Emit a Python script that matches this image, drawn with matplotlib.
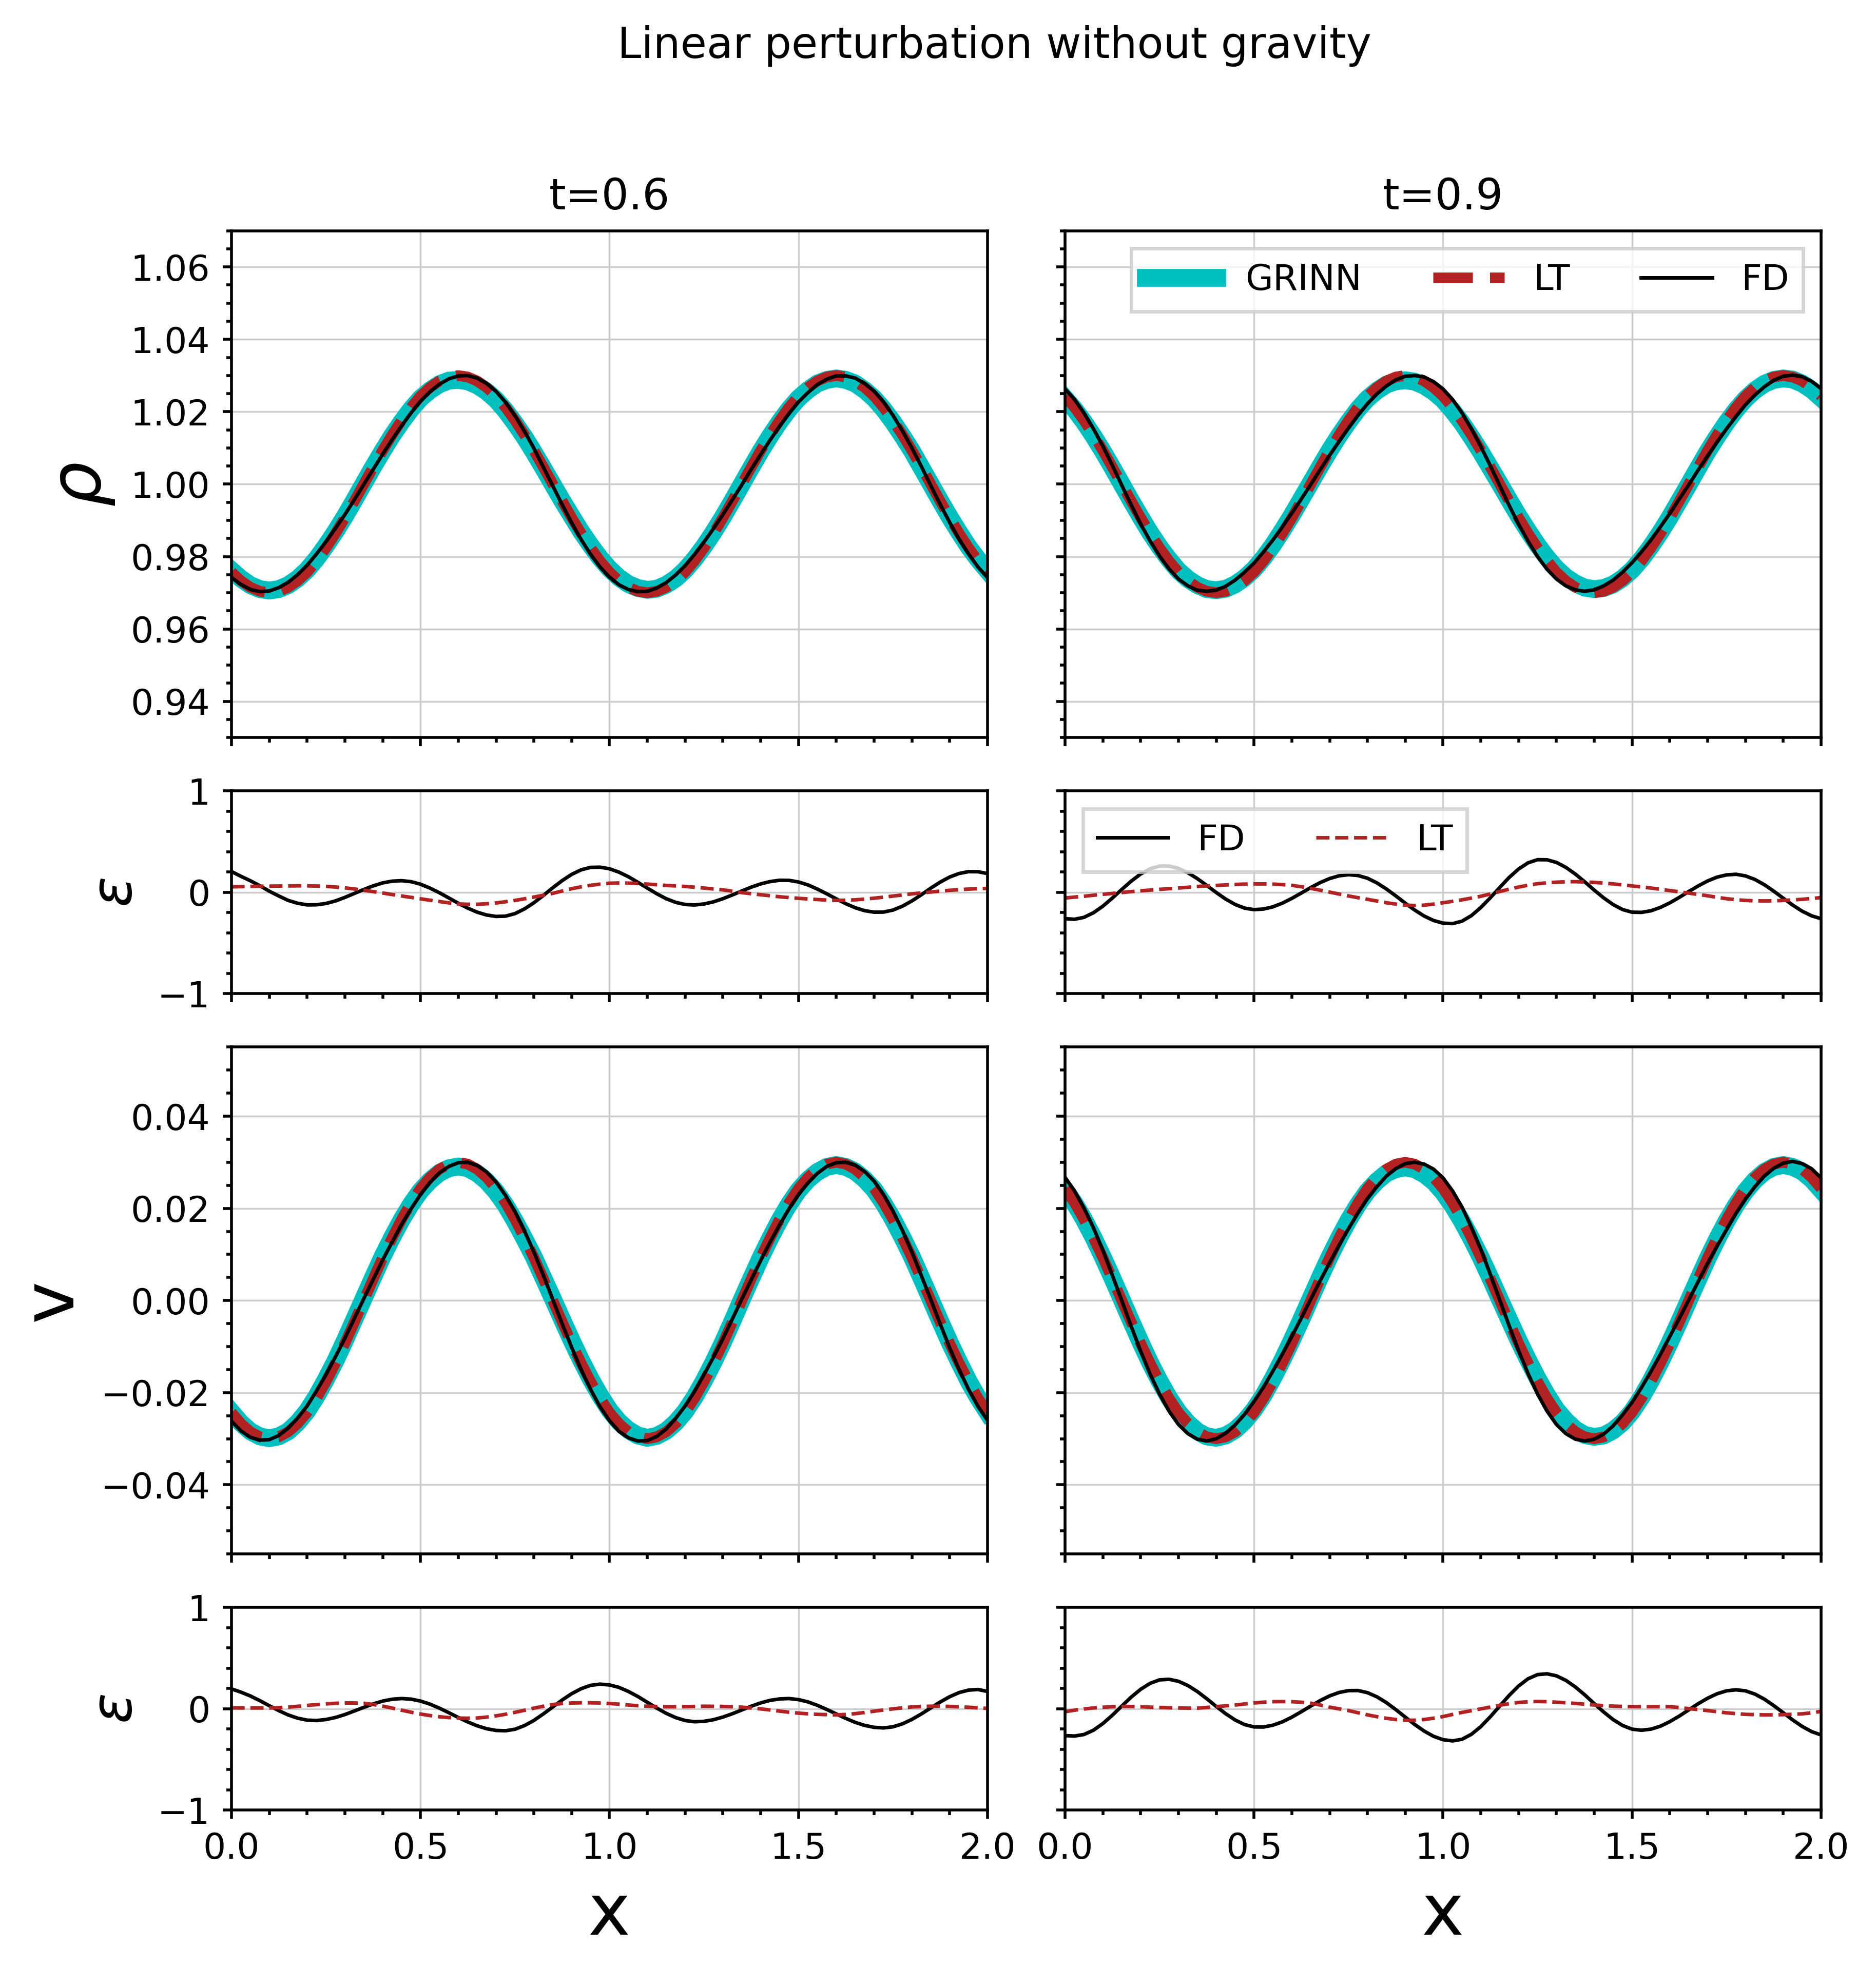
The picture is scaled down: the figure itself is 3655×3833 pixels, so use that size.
import numpy as np
import matplotlib.pyplot as plt
from matplotlib.ticker import MultipleLocator

# sample positions along x (step 0.025)
x = np.linspace(0.0, 2.0, 81)

# ---------------- t = 0.6 ----------------
rho_grinn_t06 = [0.9762, 0.9739, 0.9721, 0.9710, 0.9706, 0.9710, 0.9721, 0.9739, 0.9763, 0.9794,
                 0.9830, 0.9869, 0.9911, 0.9956, 1.0002, 1.0048, 1.0092, 1.0134, 1.0172, 1.0207,
                 1.0237, 1.0259, 1.0276, 1.0286, 1.0288, 1.0284, 1.0273, 1.0256, 1.0233, 1.0203,
                 1.0168, 1.0130, 1.0088, 1.0044, 0.9999, 0.9954, 0.9911, 0.9869, 0.9831, 0.9796,
                 0.9766, 0.9742, 0.9724, 0.9713, 0.9708, 0.9711, 0.9722, 0.9739, 0.9763, 0.9793,
                 0.9828, 0.9867, 0.9909, 0.9954, 1.0000, 1.0046, 1.0091, 1.0133, 1.0172, 1.0207,
                 1.0237, 1.0260, 1.0278, 1.0288, 1.0292, 1.0288, 1.0278, 1.0260, 1.0237, 1.0207,
                 1.0172, 1.0133, 1.0092, 1.0046, 1.0000, 0.9954, 0.9909, 0.9867, 0.9827, 0.9792,
                 0.9761]
rho_lt_t06 = [0.9757, 0.9733, 0.9715, 0.9704, 0.9700, 0.9704, 0.9715, 0.9733, 0.9757, 0.9788,
              0.9824, 0.9864, 0.9907, 0.9953, 1.0000, 1.0047, 1.0093, 1.0136, 1.0176, 1.0212,
              1.0243, 1.0267, 1.0285, 1.0296, 1.0300, 1.0296, 1.0285, 1.0267, 1.0243, 1.0212,
              1.0176, 1.0136, 1.0093, 1.0047, 1.0000, 0.9953, 0.9907, 0.9864, 0.9824, 0.9788,
              0.9757, 0.9733, 0.9715, 0.9704, 0.9700, 0.9704, 0.9715, 0.9733, 0.9757, 0.9788,
              0.9824, 0.9864, 0.9907, 0.9953, 1.0000, 1.0047, 1.0093, 1.0136, 1.0176, 1.0212,
              1.0243, 1.0267, 1.0285, 1.0296, 1.0300, 1.0296, 1.0285, 1.0267, 1.0243, 1.0212,
              1.0176, 1.0136, 1.0093, 1.0047, 1.0000, 0.9953, 0.9907, 0.9864, 0.9824, 0.9788,
              0.9757]
rho_fd_t06 = [0.9742, 0.9723, 0.9709, 0.9703, 0.9705, 0.9714, 0.9729, 0.9750, 0.9776, 0.9807,
              0.9841, 0.9878, 0.9916, 0.9957, 0.9999, 1.0041, 1.0083, 1.0123, 1.0161, 1.0197,
              1.0229, 1.0255, 1.0276, 1.0291, 1.0299, 1.0300, 1.0293, 1.0278, 1.0256, 1.0226,
              1.0189, 1.0146, 1.0099, 1.0047, 0.9995, 0.9943, 0.9893, 0.9847, 0.9806, 0.9771,
              0.9743, 0.9722, 0.9709, 0.9703, 0.9704, 0.9713, 0.9728, 0.9749, 0.9775, 0.9806,
              0.9840, 0.9877, 0.9916, 0.9957, 0.9998, 1.0041, 1.0082, 1.0122, 1.0160, 1.0195,
              1.0227, 1.0253, 1.0275, 1.0290, 1.0299, 1.0299, 1.0293, 1.0278, 1.0257, 1.0227,
              1.0190, 1.0147, 1.0100, 1.0049, 0.9996, 0.9944, 0.9894, 0.9848, 0.9807, 0.9771,
              0.9742]
eps_rho_fd_t06 = [0.205, 0.158, 0.114, 0.065, 0.011, -0.036, -0.080, -0.108, -0.124, -0.123,
                  -0.110, -0.085, -0.050, -0.011, 0.028, 0.064, 0.093, 0.110, 0.115, 0.105,
                  0.080, 0.042, -0.004, -0.056, -0.108, -0.156, -0.196, -0.224, -0.238, -0.235,
                  -0.210, -0.164, -0.103, -0.031, 0.045, 0.116, 0.177, 0.222, 0.246, 0.248,
                  0.232, 0.199, 0.154, 0.099, 0.042, -0.014, -0.063, -0.099, -0.120, -0.125,
                  -0.115, -0.094, -0.063, -0.026, 0.013, 0.051, 0.083, 0.106, 0.119, 0.118,
                  0.102, 0.073, 0.032, -0.015, -0.065, -0.112, -0.152, -0.181, -0.196, -0.195,
                  -0.175, -0.137, -0.085, -0.024, 0.041, 0.101, 0.151, 0.186, 0.204, 0.203,
                  0.185]
eps_rho_lt_t06 = [0.054, 0.056, 0.058, 0.060, 0.061, 0.062, 0.063, 0.064, 0.064, 0.062,
                  0.059, 0.052, 0.044, 0.033, 0.020, 0.007, -0.007, -0.022, -0.036, -0.050,
                  -0.064, -0.078, -0.091, -0.104, -0.115, -0.118, -0.118, -0.113, -0.105, -0.093,
                  -0.080, -0.064, -0.047, -0.029, -0.010, 0.013, 0.036, 0.054, 0.069, 0.081,
                  0.090, 0.092, 0.091, 0.087, 0.081, 0.075, 0.068, 0.063, 0.058, 0.050,
                  0.042, 0.033, 0.024, 0.011, -0.003, -0.014, -0.024, -0.034, -0.044, -0.052,
                  -0.059, -0.066, -0.071, -0.077, -0.080, -0.078, -0.074, -0.067, -0.058, -0.048,
                  -0.037, -0.026, -0.015, -0.006, 0.003, 0.012, 0.020, 0.026, 0.032, 0.036,
                  0.039]
v_grinn_t06 = [-0.0242, -0.0266, -0.0284, -0.0295, -0.0299, -0.0295, -0.0284, -0.0265, -0.0240, -0.0208,
               -0.0171, -0.0131, -0.0087, -0.0041, 0.0005, 0.0051, 0.0096, 0.0137, 0.0175, 0.0209,
               0.0238, 0.0260, 0.0277, 0.0287, 0.0291, 0.0287, 0.0276, 0.0259, 0.0236, 0.0207,
               0.0172, 0.0134, 0.0094, 0.0049, 0.0004, -0.0042, -0.0087, -0.0130, -0.0170, -0.0206,
               -0.0238, -0.0263, -0.0281, -0.0293, -0.0298, -0.0294, -0.0283, -0.0265, -0.0241, -0.0210,
               -0.0174, -0.0134, -0.0091, -0.0045, 0.0002, 0.0048, 0.0093, 0.0135, 0.0174, 0.0209,
               0.0239, 0.0262, 0.0279, 0.0290, 0.0294, 0.0290, 0.0280, 0.0263, 0.0241, 0.0211,
               0.0176, 0.0137, 0.0095, 0.0049, 0.0002, -0.0045, -0.0091, -0.0134, -0.0175, -0.0211,
               -0.0243]
v_lt_t06 = [-0.0243, -0.0267, -0.0285, -0.0296, -0.0300, -0.0296, -0.0285, -0.0267, -0.0243, -0.0212,
            -0.0176, -0.0136, -0.0093, -0.0047, 0.0000, 0.0047, 0.0093, 0.0136, 0.0176, 0.0212,
            0.0243, 0.0267, 0.0285, 0.0296, 0.0300, 0.0296, 0.0285, 0.0267, 0.0243, 0.0212,
            0.0176, 0.0136, 0.0093, 0.0047, 0.0000, -0.0047, -0.0093, -0.0136, -0.0176, -0.0212,
            -0.0243, -0.0267, -0.0285, -0.0296, -0.0300, -0.0296, -0.0285, -0.0267, -0.0243, -0.0212,
            -0.0176, -0.0136, -0.0093, -0.0047, 0.0000, 0.0047, 0.0093, 0.0136, 0.0176, 0.0212,
            0.0243, 0.0267, 0.0285, 0.0296, 0.0300, 0.0296, 0.0285, 0.0267, 0.0243, 0.0212,
            0.0176, 0.0136, 0.0093, 0.0047, 0.0000, -0.0047, -0.0093, -0.0136, -0.0176, -0.0212,
            -0.0243]
v_fd_t06 = [-0.0262, -0.0283, -0.0297, -0.0303, -0.0302, -0.0293, -0.0277, -0.0255, -0.0229, -0.0196,
            -0.0161, -0.0122, -0.0082, -0.0039, 0.0004, 0.0046, 0.0088, 0.0127, 0.0165, 0.0199,
            0.0230, 0.0256, 0.0277, 0.0291, 0.0299, 0.0300, 0.0293, 0.0279, 0.0257, 0.0228,
            0.0193, 0.0151, 0.0105, 0.0055, 0.0002, -0.0051, -0.0102, -0.0150, -0.0193, -0.0231,
            -0.0261, -0.0284, -0.0298, -0.0305, -0.0304, -0.0295, -0.0279, -0.0256, -0.0229, -0.0197,
            -0.0161, -0.0123, -0.0083, -0.0040, 0.0003, 0.0045, 0.0087, 0.0127, 0.0164, 0.0199,
            0.0230, 0.0255, 0.0276, 0.0291, 0.0299, 0.0300, 0.0294, 0.0280, 0.0259, 0.0230,
            0.0194, 0.0152, 0.0105, 0.0054, 0.0002, -0.0051, -0.0103, -0.0150, -0.0193, -0.0230,
            -0.0260]
eps_v_fd_t06 = [0.195, 0.163, 0.125, 0.079, 0.029, -0.019, -0.062, -0.094, -0.113, -0.117,
                -0.107, -0.087, -0.058, -0.023, 0.013, 0.047, 0.075, 0.093, 0.100, 0.094,
                0.075, 0.045, 0.005, -0.040, -0.087, -0.131, -0.169, -0.198, -0.215, -0.218,
                -0.203, -0.167, -0.116, -0.052, 0.017, 0.086, 0.148, 0.197, 0.230, 0.242,
                0.234, 0.210, 0.170, 0.120, 0.063, 0.006, -0.046, -0.088, -0.117, -0.129,
                -0.125, -0.109, -0.083, -0.050, -0.013, 0.024, 0.057, 0.082, 0.096, 0.100,
                0.089, 0.067, 0.033, -0.008, -0.052, -0.096, -0.135, -0.165, -0.184, -0.190,
                -0.179, -0.150, -0.106, -0.052, 0.007, 0.066, 0.118, 0.159, 0.183, 0.189,
                0.170]
eps_v_lt_t06 = [0.008, 0.007, 0.007, 0.007, 0.007, 0.010, 0.015, 0.023, 0.032, 0.040,
                0.047, 0.053, 0.056, 0.056, 0.053, 0.041, 0.025, 0.006, -0.015, -0.035,
                -0.053, -0.068, -0.080, -0.088, -0.093, -0.094, -0.092, -0.083, -0.071, -0.055,
                -0.036, -0.016, 0.005, 0.024, 0.041, 0.051, 0.056, 0.058, 0.058, 0.056,
                0.051, 0.044, 0.036, 0.029, 0.024, 0.021, 0.019, 0.019, 0.020, 0.022,
                0.024, 0.023, 0.022, 0.019, 0.015, 0.007, -0.002, -0.013, -0.024, -0.035,
                -0.044, -0.051, -0.056, -0.059, -0.061, -0.057, -0.049, -0.038, -0.025, -0.013,
                -0.002, 0.008, 0.017, 0.021, 0.024, 0.024, 0.022, 0.018, 0.014, 0.008,
                0.003]

# ---------------- t = 0.9 ----------------
rho_grinn_t09 = [1.0237, 1.0207, 1.0172, 1.0133, 1.0091, 1.0046, 1.0000, 0.9954, 0.9909, 0.9866,
                 0.9827, 0.9792, 0.9761, 0.9738, 0.9721, 0.9710, 0.9707, 0.9711, 0.9723, 0.9741,
                 0.9765, 0.9796, 0.9832, 0.9872, 0.9914, 0.9959, 1.0004, 1.0049, 1.0093, 1.0134,
                 1.0172, 1.0207, 1.0236, 1.0258, 1.0275, 1.0284, 1.0287, 1.0283, 1.0272, 1.0255,
                 1.0233, 1.0203, 1.0169, 1.0130, 1.0089, 1.0045, 1.0001, 0.9956, 0.9912, 0.9871,
                 0.9832, 0.9797, 0.9767, 0.9743, 0.9726, 0.9714, 0.9710, 0.9713, 0.9723, 0.9740,
                 0.9763, 0.9793, 0.9828, 0.9867, 0.9909, 0.9954, 0.9999, 1.0045, 1.0090, 1.0131,
                 1.0170, 1.0205, 1.0235, 1.0259, 1.0277, 1.0288, 1.0292, 1.0289, 1.0278, 1.0261,
                 1.0238]
rho_lt_t09 = [1.0243, 1.0212, 1.0176, 1.0136, 1.0093, 1.0047, 1.0000, 0.9953, 0.9907, 0.9864,
              0.9824, 0.9788, 0.9757, 0.9733, 0.9715, 0.9704, 0.9700, 0.9704, 0.9715, 0.9733,
              0.9757, 0.9788, 0.9824, 0.9864, 0.9907, 0.9953, 1.0000, 1.0047, 1.0093, 1.0136,
              1.0176, 1.0212, 1.0243, 1.0267, 1.0285, 1.0296, 1.0300, 1.0296, 1.0285, 1.0267,
              1.0243, 1.0212, 1.0176, 1.0136, 1.0093, 1.0047, 1.0000, 0.9953, 0.9907, 0.9864,
              0.9824, 0.9788, 0.9757, 0.9733, 0.9715, 0.9704, 0.9700, 0.9704, 0.9715, 0.9733,
              0.9757, 0.9788, 0.9824, 0.9864, 0.9907, 0.9953, 1.0000, 1.0047, 1.0093, 1.0136,
              1.0176, 1.0212, 1.0243, 1.0267, 1.0285, 1.0296, 1.0300, 1.0296, 1.0285, 1.0267,
              1.0243]
rho_fd_t09 = [1.0263, 1.0234, 1.0197, 1.0153, 1.0105, 1.0052, 0.9997, 0.9943, 0.9890, 0.9843,
              0.9801, 0.9766, 0.9738, 0.9719, 0.9707, 0.9704, 0.9707, 0.9718, 0.9735, 0.9757,
              0.9782, 0.9813, 0.9846, 0.9882, 0.9920, 0.9959, 0.9999, 1.0040, 1.0080, 1.0118,
              1.0155, 1.0190, 1.0222, 1.0249, 1.0271, 1.0288, 1.0298, 1.0300, 1.0296, 1.0283,
              1.0263, 1.0234, 1.0197, 1.0153, 1.0104, 1.0051, 0.9996, 0.9941, 0.9889, 0.9842,
              0.9800, 0.9765, 0.9738, 0.9719, 0.9708, 0.9704, 0.9708, 0.9719, 0.9735, 0.9757,
              0.9783, 0.9813, 0.9846, 0.9882, 0.9919, 0.9959, 0.9998, 1.0039, 1.0078, 1.0116,
              1.0153, 1.0187, 1.0219, 1.0246, 1.0269, 1.0287, 1.0298, 1.0301, 1.0297, 1.0284,
              1.0264]
eps_rho_fd_t09 = [-0.260, -0.266, -0.247, -0.202, -0.137, -0.057, 0.028, 0.110, 0.181, 0.232,
                  0.259, 0.259, 0.236, 0.193, 0.135, 0.068, -0.002, -0.067, -0.120, -0.156,
                  -0.171, -0.165, -0.143, -0.107, -0.060, -0.007, 0.047, 0.096, 0.136, 0.163,
                  0.174, 0.166, 0.139, 0.093, 0.033, -0.035, -0.107, -0.175, -0.234, -0.278,
                  -0.304, -0.309, -0.285, -0.230, -0.150, -0.054, 0.048, 0.147, 0.230, 0.291,
                  0.322, 0.321, 0.295, 0.246, 0.180, 0.103, 0.022, -0.055, -0.121, -0.170,
                  -0.196, -0.198, -0.182, -0.149, -0.104, -0.050, 0.008, 0.063, 0.112, 0.150,
                  0.172, 0.178, 0.162, 0.127, 0.075, 0.011, -0.058, -0.126, -0.186, -0.232,
                  -0.260]
eps_rho_lt_t09 = [-0.056, -0.047, -0.039, -0.029, -0.020, -0.011, -0.002, 0.007, 0.015, 0.022,
                  0.029, 0.036, 0.042, 0.050, 0.058, 0.063, 0.068, 0.073, 0.078, 0.081,
                  0.083, 0.083, 0.081, 0.076, 0.069, 0.055, 0.039, 0.021, 0.002, -0.017,
                  -0.036, -0.053, -0.069, -0.086, -0.103, -0.116, -0.127, -0.130, -0.127, -0.116,
                  -0.103, -0.089, -0.074, -0.057, -0.039, -0.016, 0.008, 0.031, 0.052, 0.070,
                  0.085, 0.094, 0.100, 0.104, 0.105, 0.102, 0.098, 0.091, 0.083, 0.073,
                  0.063, 0.053, 0.042, 0.030, 0.017, 0.005, -0.008, -0.021, -0.034, -0.049,
                  -0.063, -0.073, -0.080, -0.084, -0.085, -0.084, -0.080, -0.075, -0.069, -0.061,
                  -0.052]
v_grinn_t09 = [0.0240, 0.0211, 0.0176, 0.0137, 0.0094, 0.0049, 0.0002, -0.0045, -0.0091, -0.0135,
               -0.0175, -0.0211, -0.0242, -0.0266, -0.0284, -0.0295, -0.0298, -0.0293, -0.0281, -0.0262,
               -0.0237, -0.0206, -0.0169, -0.0129, -0.0086, -0.0041, 0.0005, 0.0051, 0.0095, 0.0136,
               0.0174, 0.0208, 0.0237, 0.0259, 0.0276, 0.0285, 0.0289, 0.0285, 0.0274, 0.0258,
               0.0235, 0.0206, 0.0172, 0.0134, 0.0093, 0.0049, 0.0003, -0.0042, -0.0087, -0.0129,
               -0.0169, -0.0205, -0.0237, -0.0261, -0.0280, -0.0292, -0.0296, -0.0293, -0.0282, -0.0265,
               -0.0241, -0.0210, -0.0174, -0.0134, -0.0091, -0.0046, 0.0000, 0.0046, 0.0091, 0.0133,
               0.0172, 0.0207, 0.0237, 0.0261, 0.0279, 0.0290, 0.0294, 0.0290, 0.0280, 0.0263,
               0.0240]
v_lt_t09 = [0.0243, 0.0212, 0.0176, 0.0136, 0.0093, 0.0047, 0.0000, -0.0047, -0.0093, -0.0136,
            -0.0176, -0.0212, -0.0243, -0.0267, -0.0285, -0.0296, -0.0300, -0.0296, -0.0285, -0.0267,
            -0.0243, -0.0212, -0.0176, -0.0136, -0.0093, -0.0047, 0.0000, 0.0047, 0.0093, 0.0136,
            0.0176, 0.0212, 0.0243, 0.0267, 0.0285, 0.0296, 0.0300, 0.0296, 0.0285, 0.0267,
            0.0243, 0.0212, 0.0176, 0.0136, 0.0093, 0.0047, 0.0000, -0.0047, -0.0093, -0.0136,
            -0.0176, -0.0212, -0.0243, -0.0267, -0.0285, -0.0296, -0.0300, -0.0296, -0.0285, -0.0267,
            -0.0243, -0.0212, -0.0176, -0.0136, -0.0093, -0.0047, 0.0000, 0.0047, 0.0093, 0.0136,
            0.0176, 0.0212, 0.0243, 0.0267, 0.0285, 0.0296, 0.0300, 0.0296, 0.0285, 0.0267,
            0.0243]
v_fd_t09 = [0.0267, 0.0238, 0.0201, 0.0158, 0.0109, 0.0055, 0.0000, -0.0056, -0.0110, -0.0160,
            -0.0203, -0.0240, -0.0269, -0.0289, -0.0301, -0.0305, -0.0300, -0.0288, -0.0270, -0.0247,
            -0.0219, -0.0188, -0.0153, -0.0116, -0.0078, -0.0038, 0.0003, 0.0043, 0.0082, 0.0120,
            0.0156, 0.0190, 0.0221, 0.0247, 0.0270, 0.0286, 0.0297, 0.0300, 0.0296, 0.0285,
            0.0266, 0.0238, 0.0203, 0.0159, 0.0111, 0.0057, 0.0001, -0.0055, -0.0109, -0.0159,
            -0.0203, -0.0240, -0.0269, -0.0289, -0.0301, -0.0305, -0.0301, -0.0290, -0.0272, -0.0248,
            -0.0221, -0.0189, -0.0154, -0.0117, -0.0078, -0.0039, 0.0001, 0.0041, 0.0081, 0.0118,
            0.0154, 0.0189, 0.0220, 0.0247, 0.0270, 0.0287, 0.0298, 0.0302, 0.0297, 0.0286,
            0.0266]
eps_v_fd_t09 = [-0.266, -0.270, -0.255, -0.213, -0.147, -0.065, 0.025, 0.114, 0.191, 0.250,
                0.284, 0.290, 0.270, 0.228, 0.169, 0.098, 0.022, -0.050, -0.112, -0.157,
                -0.180, -0.181, -0.163, -0.130, -0.084, -0.030, 0.026, 0.080, 0.126, 0.160,
                0.178, 0.179, 0.158, 0.117, 0.060, -0.009, -0.083, -0.156, -0.221, -0.273,
                -0.306, -0.318, -0.302, -0.253, -0.177, -0.080, 0.026, 0.131, 0.224, 0.295,
                0.336, 0.344, 0.324, 0.279, 0.214, 0.136, 0.050, -0.033, -0.108, -0.166,
                -0.202, -0.213, -0.202, -0.173, -0.128, -0.073, -0.012, 0.049, 0.103, 0.147,
                0.176, 0.186, 0.176, 0.144, 0.094, 0.030, -0.040, -0.111, -0.175, -0.226,
                -0.259]
eps_v_lt_t09 = [-0.030, -0.015, -0.003, 0.007, 0.014, 0.019, 0.022, 0.021, 0.019, 0.015,
                0.012, 0.009, 0.007, 0.005, 0.005, 0.012, 0.020, 0.028, 0.036, 0.046,
                0.056, 0.064, 0.069, 0.070, 0.069, 0.063, 0.054, 0.036, 0.015, -0.002,
                -0.019, -0.040, -0.061, -0.079, -0.095, -0.107, -0.115, -0.114, -0.107, -0.094,
                -0.078, -0.057, -0.037, -0.020, -0.002, 0.016, 0.034, 0.049, 0.061, 0.068,
                0.071, 0.069, 0.064, 0.058, 0.052, 0.044, 0.036, 0.030, 0.025, 0.022,
                0.020, 0.020, 0.020, 0.020, 0.020, 0.011, 0.000, -0.009, -0.019, -0.030,
                -0.041, -0.049, -0.056, -0.059, -0.061, -0.061, -0.059, -0.055, -0.051, -0.041,
                -0.027]

times = ['t=0.6', 't=0.9']

fig = plt.figure(figsize=(7.31, 7.666), dpi=500)
gs = fig.add_gridspec(4, 2, height_ratios=[2.5, 1, 2.5, 1],
                      left=0.1234, right=0.9707, top=0.8827, bottom=0.0798,
                      wspace=0.1026, hspace=0.1505)
axs = gs.subplots(sharex=True, sharey='row')


def draw_column(col, rho_g, rho_l, rho_f, e_rho_f, e_rho_l, v_g, v_l, v_f, e_v_f, e_v_l):
    # density
    ax = axs[0, col]
    ax.plot(x, rho_g, color='c', lw=5, label='GRINN')
    ax.plot(x, rho_l, color='firebrick', ls='--', lw=3, label='LT')
    ax.plot(x, rho_f, color='k', lw=1, label='FD')
    # density error
    ax = axs[1, col]
    ax.plot(x, e_rho_f, color='k', lw=1, label='FD')
    ax.plot(x, e_rho_l, color='firebrick', ls='--', lw=1, label='LT')
    # velocity
    ax = axs[2, col]
    ax.plot(x, v_g, color='c', lw=5)
    ax.plot(x, v_l, color='firebrick', ls='--', lw=3)
    ax.plot(x, v_f, color='k', lw=1)
    # velocity error
    ax = axs[3, col]
    ax.plot(x, e_v_f, color='k', lw=1)
    ax.plot(x, e_v_l, color='firebrick', ls='--', lw=1)


draw_column(0, rho_grinn_t06, rho_lt_t06, rho_fd_t06, eps_rho_fd_t06, eps_rho_lt_t06,
            v_grinn_t06, v_lt_t06, v_fd_t06, eps_v_fd_t06, eps_v_lt_t06)
draw_column(1, rho_grinn_t09, rho_lt_t09, rho_fd_t09, eps_rho_fd_t09, eps_rho_lt_t09,
            v_grinn_t09, v_lt_t09, v_fd_t09, eps_v_fd_t09, eps_v_lt_t09)

# axis limits and ticks per row
axs[0, 0].set_ylim(0.93, 1.07)
axs[0, 0].yaxis.set_major_locator(MultipleLocator(0.02))
axs[0, 0].yaxis.set_minor_locator(MultipleLocator(0.005))
axs[2, 0].set_ylim(-0.055, 0.055)
axs[2, 0].yaxis.set_major_locator(MultipleLocator(0.02))
axs[2, 0].yaxis.set_minor_locator(MultipleLocator(0.005))
for r in (1, 3):
    axs[r, 0].set_ylim(-1, 1)
    axs[r, 0].yaxis.set_major_locator(MultipleLocator(1))
    axs[r, 0].yaxis.set_minor_locator(MultipleLocator(0.2))

axs[0, 0].set_xlim(0, 2)
axs[0, 0].xaxis.set_major_locator(MultipleLocator(0.5))
axs[0, 0].xaxis.set_minor_locator(MultipleLocator(0.1))

for ax in axs.flat:
    ax.grid(True, which='major', color='0.8', lw=0.5)
    ax.tick_params(which='both', direction='out', top=False, right=False, labelsize=10)
    ax.tick_params(which='major', length=2.5, width=0.8)
    ax.tick_params(which='minor', length=1.5, width=0.8)

for col in range(2):
    axs[0, col].set_title(times[col], fontsize=12)
    axs[3, col].set_xlabel('x', fontsize=20)

axs[0, 0].set_ylabel(r'$\rho$', fontsize=20)
axs[1, 0].set_ylabel(r'$\varepsilon$', fontsize=16)
axs[2, 0].set_ylabel('v', fontsize=20)
axs[3, 0].set_ylabel(r'$\varepsilon$', fontsize=16)

axs[0, 1].legend(ncol=3, loc='upper right', fancybox=False, fontsize=10)
axs[1, 1].legend(ncol=2, loc='upper left', fancybox=False, fontsize=10)

fig.text(0.53, 0.9705, 'Linear perturbation without gravity', ha='center', va='baseline', fontsize=12)

fig.savefig('out.png', dpi=500)
